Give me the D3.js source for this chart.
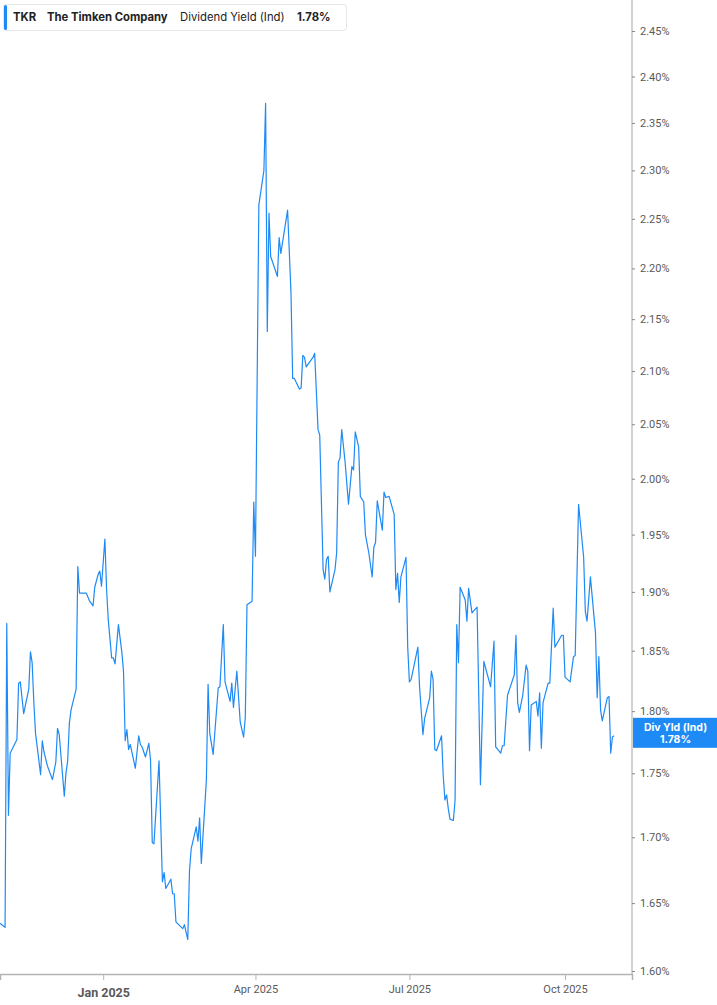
<!DOCTYPE html>
<html>
<head>
<meta charset="utf-8">
<script src="https://cdn.jsdelivr.net/npm/d3@7/dist/d3.min.js"></script>
<style>
  body { margin: 0; background: #fff; }
  svg { display: block; font-family: Inter, "Noto Sans", sans-serif; }
</style>
</head>
<body>
<script>
// dividend yield (ind) of TKR
var dates = [
    "2024-11-01", "2024-11-04", "2024-11-05", "2024-11-06", "2024-11-07", "2024-11-11", "2024-11-12", "2024-11-13",
    "2024-11-15", "2024-11-18", "2024-11-19", "2024-11-20", "2024-11-21", "2024-11-22", "2024-11-25", "2024-11-26",
    "2024-11-27", "2024-11-29", "2024-12-02", "2024-12-04", "2024-12-05", "2024-12-06", "2024-12-09", "2024-12-10",
    "2024-12-11", "2024-12-12", "2024-12-13", "2024-12-16", "2024-12-17", "2024-12-18", "2024-12-22", "2024-12-24",
    "2024-12-26", "2024-12-27", "2024-12-29", "2024-12-30", "2024-12-31", "2025-01-02", "2025-01-03", "2025-01-04",
    "2025-01-06", "2025-01-07", "2025-01-08", "2025-01-10", "2025-01-12", "2025-01-13", "2025-01-14", "2025-01-15",
    "2025-01-16", "2025-01-17", "2025-01-20", "2025-01-22", "2025-01-23", "2025-01-24", "2025-01-26", "2025-01-28",
    "2025-01-29", "2025-01-30", "2025-01-31", "2025-02-03", "2025-02-05", "2025-02-06", "2025-02-07", "2025-02-10",
    "2025-02-11", "2025-02-12", "2025-02-13", "2025-02-17", "2025-02-18", "2025-02-20", "2025-02-21", "2025-02-22",
    "2025-02-25", "2025-02-26", "2025-02-27", "2025-02-28", "2025-03-03", "2025-03-04", "2025-03-05", "2025-03-07",
    "2025-03-10", "2025-03-11", "2025-03-13", "2025-03-14", "2025-03-17", "2025-03-18", "2025-03-19", "2025-03-21",
    "2025-03-23", "2025-03-25", "2025-03-26", "2025-03-27", "2025-03-30", "2025-03-31", "2025-04-01", "2025-04-03",
    "2025-04-06", "2025-04-07", "2025-04-08", "2025-04-09", "2025-04-10", "2025-04-14", "2025-04-15", "2025-04-16",
    "2025-04-20", "2025-04-22", "2025-04-23", "2025-04-24", "2025-04-27", "2025-04-28", "2025-04-29", "2025-04-30",
    "2025-05-01", "2025-05-05", "2025-05-06", "2025-05-08", "2025-05-09", "2025-05-11", "2025-05-12", "2025-05-13",
    "2025-05-14", "2025-05-15", "2025-05-18", "2025-05-19", "2025-05-20", "2025-05-21", "2025-05-22", "2025-05-24",
    "2025-05-26", "2025-05-28", "2025-05-29", "2025-05-30", "2025-06-01", "2025-06-02", "2025-06-04", "2025-06-05",
    "2025-06-07", "2025-06-09", "2025-06-10", "2025-06-11", "2025-06-12", "2025-06-15", "2025-06-16", "2025-06-17",
    "2025-06-19", "2025-06-22", "2025-06-23", "2025-06-24", "2025-06-25", "2025-06-26", "2025-06-29", "2025-06-30",
    "2025-07-01", "2025-07-02", "2025-07-06", "2025-07-07", "2025-07-09", "2025-07-10", "2025-07-13", "2025-07-14",
    "2025-07-15", "2025-07-16", "2025-07-17", "2025-07-20", "2025-07-21", "2025-07-22", "2025-07-23", "2025-07-24",
    "2025-07-25", "2025-07-27", "2025-07-28", "2025-07-29", "2025-07-30", "2025-07-31", "2025-08-03", "2025-08-04",
    "2025-08-05", "2025-08-07", "2025-08-10", "2025-08-12", "2025-08-14", "2025-08-18", "2025-08-20", "2025-08-21",
    "2025-08-24", "2025-08-25", "2025-08-26", "2025-08-28", "2025-09-01", "2025-09-02", "2025-09-03", "2025-09-04",
    "2025-09-06", "2025-09-08", "2025-09-09", "2025-09-10", "2025-09-11", "2025-09-14", "2025-09-15", "2025-09-16",
    "2025-09-17", "2025-09-18", "2025-09-21", "2025-09-22", "2025-09-24", "2025-09-25", "2025-09-29", "2025-09-30",
    "2025-10-01", "2025-10-04", "2025-10-06", "2025-10-07", "2025-10-09", "2025-10-12", "2025-10-13", "2025-10-14",
    "2025-10-16", "2025-10-19", "2025-10-20", "2025-10-21", "2025-10-22", "2025-10-23", "2025-10-26", "2025-10-27",
    "2025-10-28", "2025-10-29", "2025-10-30"
];

var yields = [
    1.635, 1.632, 1.873, 1.717, 1.766, 1.777, 1.823, 1.824,
    1.798, 1.818, 1.849, 1.840, 1.807, 1.782, 1.749, 1.776,
    1.767, 1.756, 1.745, 1.759, 1.786, 1.781, 1.732, 1.750,
    1.760, 1.790, 1.801, 1.818, 1.922, 1.899, 1.899, 1.892,
    1.888, 1.904, 1.915, 1.918, 1.905, 1.946, 1.902, 1.876,
    1.844, 1.844, 1.839, 1.872, 1.849, 1.833, 1.776, 1.785,
    1.769, 1.773, 1.754, 1.780, 1.773, 1.771, 1.763, 1.774,
    1.760, 1.696, 1.695, 1.760, 1.666, 1.673, 1.661, 1.668,
    1.657, 1.657, 1.636, 1.631, 1.634, 1.623, 1.674, 1.691,
    1.708, 1.697, 1.715, 1.680, 1.745, 1.822, 1.782, 1.765,
    1.819, 1.820, 1.872, 1.824, 1.808, 1.823, 1.803, 1.833,
    1.791, 1.779, 1.795, 1.889, 1.892, 1.979, 1.931, 2.264,
    2.300, 2.371, 2.138, 2.256, 2.212, 2.192, 2.231, 2.215,
    2.259, 2.176, 2.093, 2.093, 2.083, 2.084, 2.115, 2.113,
    2.104, 2.113, 2.117, 2.045, 2.040, 1.919, 1.911, 1.928,
    1.931, 1.900, 1.919, 1.934, 2.015, 2.019, 2.045, 2.015,
    1.977, 2.011, 2.008, 2.043, 2.029, 1.984, 1.979, 1.950,
    1.934, 1.913, 1.939, 1.943, 1.980, 1.954, 1.988, 1.983,
    1.984, 1.968, 1.902, 1.916, 1.891, 1.913, 1.930, 1.853,
    1.824, 1.826, 1.853, 1.820, 1.781, 1.794, 1.811, 1.833,
    1.826, 1.769, 1.768, 1.780, 1.748, 1.729, 1.733, 1.722,
    1.714, 1.713, 1.729, 1.872, 1.840, 1.904, 1.893, 1.875,
    1.903, 1.882, 1.887, 1.741, 1.841, 1.820, 1.858, 1.771,
    1.766, 1.772, 1.772, 1.813, 1.830, 1.863, 1.807, 1.799,
    1.813, 1.838, 1.833, 1.768, 1.805, 1.808, 1.796, 1.815,
    1.770, 1.807, 1.823, 1.823, 1.886, 1.853, 1.863, 1.863,
    1.828, 1.824, 1.845, 1.846, 1.977, 1.930, 1.883, 1.875,
    1.913, 1.865, 1.811, 1.845, 1.801, 1.792, 1.811, 1.812,
    1.766, 1.779, 1.780
];

var yTicks = [1.60, 1.65, 1.70, 1.75, 1.80, 1.85, 1.90, 1.95, 2.00, 2.05, 2.10, 2.15, 2.20, 2.25, 2.30, 2.35, 2.40, 2.45];
var xTicks = ["2025-01-01", "2025-04-01", "2025-07-01", "2025-10-01"];
var xTickLabels = ["Jan 2025", "Apr 2025", "Jul 2025", "Oct 2025"];
var legendTexts = ["TKR", "The Timken Company", "Dividend Yield (Ind)", "1.78%"];
var lastLabel = ["Div Yld (Ind)", "1.78%"];

var width = 717,
    height = 1005,
    plotRight = 632,
    plotBottom = 974;

var blue = "#1e8af5",
    axisGrey = "#b4b4b4",
    textGrey = "#5a5a5a";

var parse = d3.utcParse("%Y-%m-%d");
var data = dates.map(function (d, i) {
    return { date: parse(d), value: yields[i] };
});

var x = d3.scaleUtc()
    .domain([parse("2024-11-01"), new Date(Date.UTC(2025, 10, 9, 14))])
    .range([0, plotRight]);

// log scale, the tick gaps grow toward the bottom
var y = d3.scaleLog()
    .domain([1.60, 2.45])
    .range([971, 31]);

var svg = d3.select("body").append("svg")
    .attr("width", width)
    .attr("height", height);

// bottom axis
var xAxis = svg.append("g")
    .attr("transform", "translate(0," + plotBottom + ")")
    .call(d3.axisBottom(x)
        .tickValues(xTicks.map(parse))
        .tickSize(6)
        .tickFormat(function (d, i) { return xTickLabels[i]; }));
xAxis.select(".domain").attr("stroke", axisGrey).attr("stroke-width", 1.5);
xAxis.selectAll(".tick line").attr("stroke", axisGrey);
xAxis.selectAll(".tick text")
    .attr("fill", textGrey)
    .attr("font-family", "Roboto, sans-serif")
    .attr("dy", "1.2em")
    .attr("font-weight", function (d, i) { return i === 0 ? "bold" : "normal"; })
    .attr("font-size", function (d, i) { return i === 0 ? 12.5 : 11; })
    .attr("y", function (d, i) { return i === 0 ? 8 : 6; });

// right axis
svg.append("line")
    .attr("x1", plotRight).attr("x2", plotRight)
    .attr("y1", 0).attr("y2", plotBottom)
    .attr("stroke", axisGrey)
    .attr("stroke-width", 1.2);

var yAxis = svg.append("g")
    .attr("transform", "translate(" + plotRight + ",0)")
    .call(d3.axisRight(y)
        .tickValues(yTicks)
        .tickSize(3)
        .tickPadding(5)
        .tickFormat(function (d) { return d.toFixed(2) + "%"; }));
yAxis.select(".domain").remove();
yAxis.selectAll(".tick line").attr("stroke", "#888");
yAxis.selectAll(".tick text")
    .attr("fill", textGrey)
    .attr("font-family", "Roboto, sans-serif")
    .attr("font-size", 11);

// the yield line
var line = d3.line()
    .x(function (d) { return x(d.date); })
    .y(function (d) { return y(d.value); });

svg.append("path")
    .datum(data)
    .attr("fill", "none")
    .attr("stroke", blue)
    .attr("stroke-width", 1.2)
    .attr("stroke-linejoin", "round")
    .attr("d", line);

// last value flag on the right axis
var last = data[data.length - 1];
var flag = svg.append("g")
    .attr("transform", "translate(" + plotRight + "," + y(last.value) + ")");
flag.append("rect")
    .attr("x", 1)
    .attr("y", -18)
    .attr("width", width - plotRight - 1)
    .attr("height", 30)
    .attr("fill", blue);
flag.selectAll("text")
    .data(lastLabel)
    .enter().append("text")
    .attr("x", (width - plotRight) / 2 + 1)
    .attr("y", function (d, i) { return i === 0 ? -5 : 7; })
    .attr("text-anchor", "middle")
    .attr("fill", "#fff")
    .attr("font-size", 10.5)
    .attr("font-weight", "bold")
    .text(function (d) { return d; });

// legend box top left
var legend = svg.append("g").attr("transform", "translate(3,4)");
legend.append("rect")
    .attr("x", 0.5).attr("y", 0.5)
    .attr("width", 343).attr("height", 26)
    .attr("rx", 3)
    .attr("fill", "#fff")
    .attr("stroke", "#e6e6e6");
legend.append("rect")
    .attr("x", 1).attr("y", 1)
    .attr("width", 3).attr("height", 25)
    .attr("rx", 1.5)
    .attr("fill", blue);

var legendX = [10, 44, 177, 294];
legend.selectAll("text.item")
    .data(legendTexts)
    .enter().append("text")
    .attr("class", "item")
    .attr("x", function (d, i) { return legendX[i]; })
    .attr("y", 17)
    .attr("fill", "#222")
    .attr("font-size", 11.3)
    .attr("font-weight", function (d, i) { return i === 2 ? "normal" : "bold"; })
    .text(function (d) { return d; });
</script>
</body>
</html>
